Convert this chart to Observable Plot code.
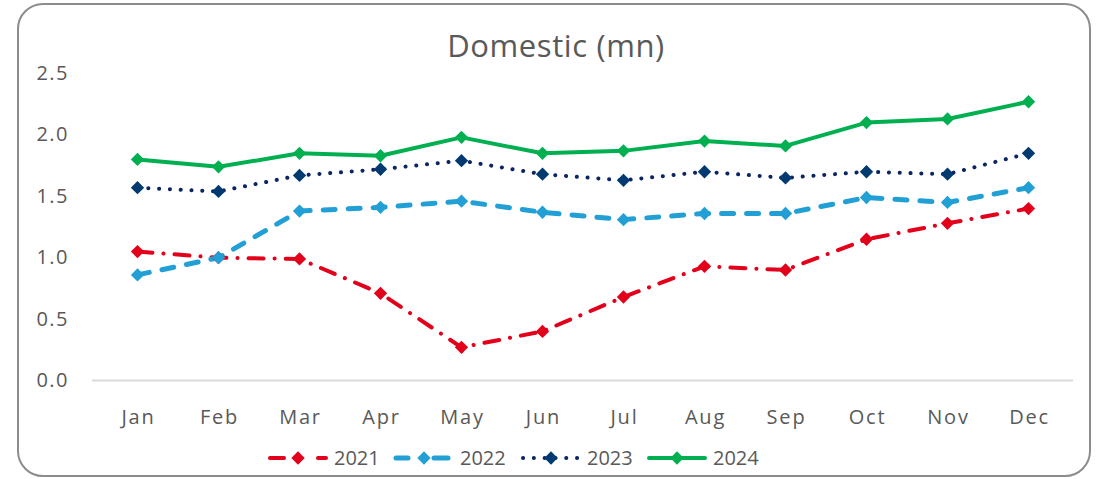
<!DOCTYPE html>
<html><head><meta charset="utf-8">
<script src="https://cdn.jsdelivr.net/npm/d3@7"></script>
<script src="https://cdn.jsdelivr.net/npm/@observablehq/plot@0.6"></script>
<style>
body{margin:0;background:#fff;font-family:"Open Sans",sans-serif;}
#wrap{position:relative;width:1097px;height:479px;overflow:hidden;background:#fff;}
#frame{position:absolute;left:17px;top:3px;width:1070px;height:470px;border:2px solid #8c8c8c;border-radius:26px;}
#title{position:absolute;left:0;width:1112px;top:24px;text-align:center;font-size:31px;letter-spacing:0.6px;color:#595959;}
#chart{position:absolute;left:0;top:60px;}
#legend{position:absolute;left:0;top:440px;}
</style></head>
<body>
<div id="wrap">
<div id="frame"></div>
<div id="title">Domestic (mn)</div>
<div id="chart"></div>
<div id="legend"></div>
</div>
<script>
const months = ["Jan","Feb","Mar","Apr","May","Jun","Jul","Aug","Sep","Oct","Nov","Dec"];
const years = ["2021","2022","2023","2024"];
const v2021 = [1.05,1.00,0.99,0.71,0.27,0.40,0.68,0.93,0.90,1.15,1.28,1.40];
const v2022 = [0.86,1.00,1.38,1.41,1.46,1.37,1.31,1.36,1.36,1.49,1.45,1.57];
const v2023 = [1.57,1.54,1.67,1.72,1.79,1.68,1.63,1.70,1.65,1.70,1.68,1.85];
const v2024 = [1.80,1.74,1.85,1.83,1.98,1.85,1.87,1.95,1.91,2.10,2.13,2.27];
const yTicks = [0,0.5,1.0,1.5,2.0,2.5];

const seriesValues = [v2021, v2022, v2023, v2024];
const styles = [
  {line:"#E2001A", marker:"#E2001A", width:4, dash:"15,11,0.1,11"},
  {line:"#22A0D5", marker:"#22A0D5", width:5, dash:"12,13"},
  {line:"#0B2563", marker:"#003A70", width:4, dash:"0.1,10.7"},
  {line:"#00B050", marker:"#00B050", width:4, dash:null}
];
const rows = years.flatMap((yr, i) => months.map((m, j) => ({year: yr, month: m, value: seriesValues[i][j]})));

const marks = [Plot.ruleY([0], {stroke:"#d9d9d9", strokeWidth:2})];
years.forEach((yr, i) => {
  const s = styles[i];
  marks.push(Plot.line(rows.filter(d => d.year === yr), {
    x:"month", y:"value", stroke:s.line, strokeWidth:s.width,
    strokeDasharray:s.dash || undefined, strokeLinecap:"round", strokeLinejoin:"round"
  }));
});
years.forEach((yr, i) => {
  const s = styles[i];
  marks.push(Plot.dot(rows.filter(d => d.year === yr), {
    x:"month", y:"value", symbol:"diamond2", r:6, fill:s.marker, stroke:"none"
  }));
});
marks.push(Plot.axisX({tickSize:0, tickPadding:29, fontSize:20, dx:1}));
marks.push(Plot.axisY({ticks:yTicks, tickFormat:d3.format(".1f"), tickSize:0, tickPadding:25, fontSize:20, dx:1.5}));

const chart = Plot.plot({
  width:1097, height:380,
  marginLeft:92, marginRight:24, marginTop:13, marginBottom:60,
  style:{fontSize:"20px", color:"#595959", fontFamily:"'Open Sans', sans-serif", background:"transparent"},
  x:{type:"point", domain:months, padding:0.5, label:null},
  y:{domain:[0,2.5], label:null},
  marks
});
d3.select(chart).selectAll("g[aria-label='x-axis tick label'] text").style("letter-spacing","1.8px");
d3.select(chart).selectAll("g[aria-label='y-axis tick label'] text").style("letter-spacing","1.5px");
document.getElementById("chart").appendChild(chart);

// Legend
const legendX = [268, 394, 521, 647];
const svg = d3.select("#legend").append("svg").attr("width",1097).attr("height",36)
  .style("font-family","'Open Sans', sans-serif");
years.forEach((yr, i) => {
  const s = styles[i];
  const x0 = legendX[i], x1 = x0 + 60, cy = 18;
  const ln = svg.append("line").attr("x1", x0+2).attr("x2", x1-2).attr("y1", cy).attr("y2", cy)
    .attr("stroke", s.line).attr("stroke-width", s.width).attr("stroke-linecap","round");
  if (i === 0) ln.attr("stroke-dasharray","14,34,10");
  else if (i === 1) ln.attr("stroke-dasharray","12,26,14");
  else if (i === 2) ln.attr("stroke-dasharray", s.dash);
  svg.append("path").attr("d", d3.symbol(d3.symbolDiamond2, Math.PI*36)())
    .attr("transform", `translate(${(x0+x1)/2},${cy})`).attr("fill", s.marker);
  svg.append("text").attr("x", x1 + 6).attr("y", cy).attr("dy","0.35em")
    .attr("font-size", 20).attr("fill","#595959").text(yr);
});
</script>
</body></html>
